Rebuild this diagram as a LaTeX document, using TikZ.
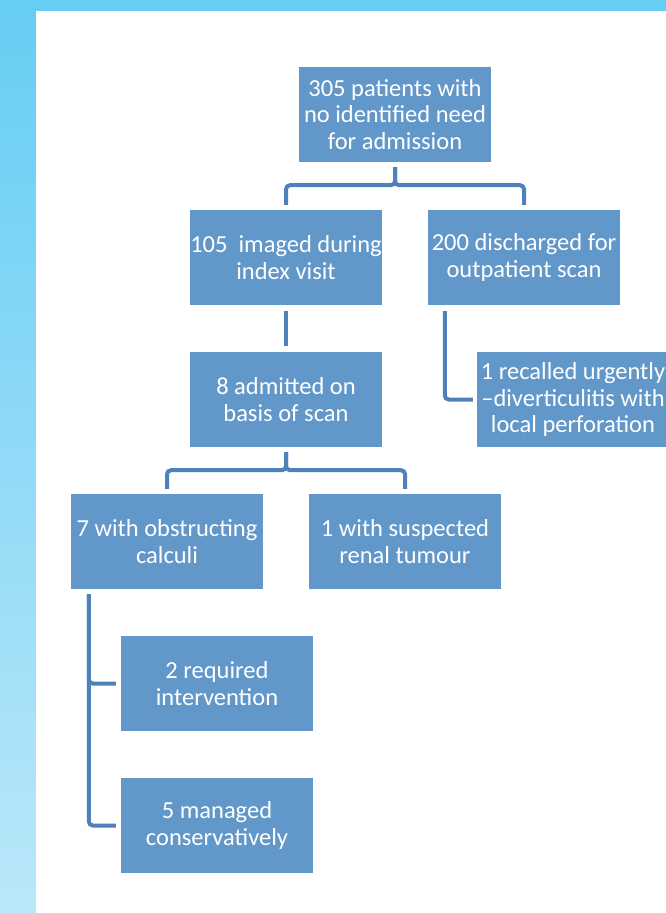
\documentclass[tikz,border=0pt]{standalone}
\usepackage{fontspec}
\setmainfont{Carlito}
\definecolor{boxfill}{RGB}{98,151,202}
\definecolor{linecol}{RGB}{78,128,186}
\definecolor{bgtop}{RGB}{102,205,243}
\definecolor{bgbot}{RGB}{186,231,250}
\begin{document}
\begin{tikzpicture}[x=1pt,y=-1pt,
  box/.style={rectangle,fill=boxfill,minimum width=192pt,minimum height=95pt,inner sep=0pt,align=center,text=white,font=\fontsize{24.5}{26.7}\selectfont},
  conn/.style={draw=linecol,line width=4pt,rounded corners=4pt}]
\useasboundingbox (0,0) rectangle (666,913);
\shade[top color=bgtop,bottom color=bgbot] (0,0) rectangle (666,913);
\fill[white] (36,11) rectangle (666,913);
\node[box] (top) at (395,114.5) {305 patients with\\no identified need\\for admission};
\node[box] (b105) at (286,257.5) {105\ \ imaged during\\index visit};
\node[box] (b200) at (524,257.5) {200 discharged for\\outpatient scan};
\node[box] (b8) at (286,399.5) {8 admitted on\\basis of scan};
\node[box] (rec) at (573,399.5) {1 recalled urgently\\–diverticulitis with\\local perforation};
\node[box] (b7) at (167,541.5) {7 with obstructing\\calculi};
\node[box] (b1s) at (405,541.5) {1 with suspected\\renal tumour};
\node[box] (b2) at (217,683.5) {2 required\\intervention};
\node[box] (b5) at (217,825.5) {5 managed\\conservatively};
\draw[conn] ([yshift=-5pt]top.south) -- ++(0,18) -| ([yshift=5pt]b105.north);
\draw[conn] ([yshift=-5pt]top.south) -- ++(0,18) -| ([yshift=5pt]b200.north);
\draw[conn] ([yshift=-6pt]b105.south) -- ([yshift=6pt]b8.north);
\draw[conn] ([xshift=17pt,yshift=-6pt]b200.south west) |- ([xshift=-4pt]rec.west);
\draw[conn] ([yshift=-5pt]b8.south) -- ++(0,18) -| ([yshift=5pt]b7.north);
\draw[conn] ([yshift=-5pt]b8.south) -- ++(0,18) -| ([yshift=5pt]b1s.north);
\draw[conn] ([xshift=18pt,yshift=-5pt]b7.south west) |- ([xshift=-5pt]b2.west);
\draw[conn] ([xshift=18pt,yshift=-5pt]b7.south west) |- ([xshift=-5pt]b5.west);
\end{tikzpicture}
\end{document}
